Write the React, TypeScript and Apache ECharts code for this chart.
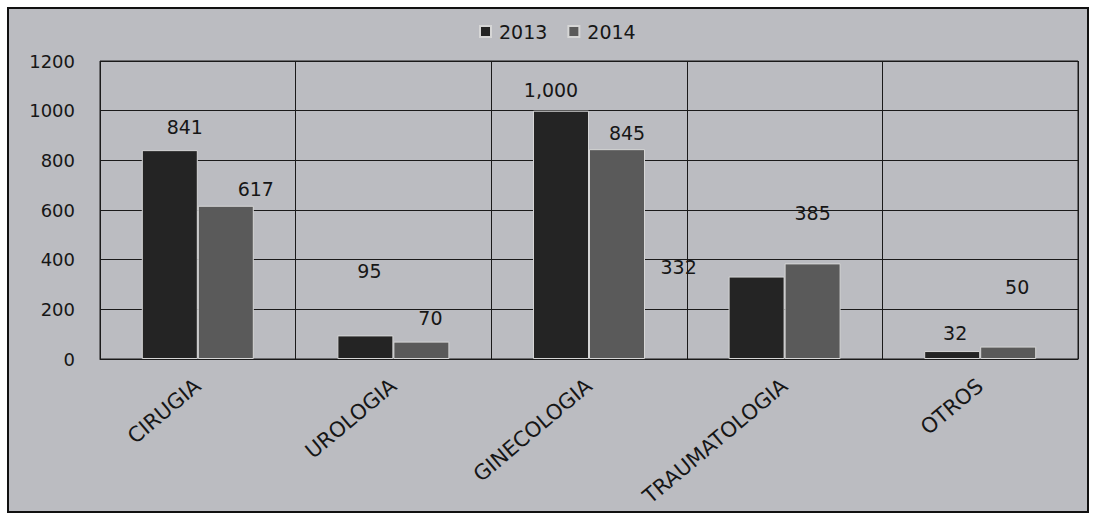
import React, { useEffect, useRef } from "react";
import * as echarts from "echarts";

const categories = ["CIRUGIA", "UROLOGIA", "GINECOLOGIA", "TRAUMATOLOGIA", "OTROS"];
const values2013 = [841, 95, 1000, 332, 32];
const values2014 = [617, 70, 845, 385, 50];
const yTicks = { min: 0, max: 1200, interval: 200 };
const seriesNames = ["2013", "2014"];

const FONT = "DejaVu Sans";
const INK = "#161616";

export default function App() {
  const ref = useRef<HTMLDivElement>(null);
  useEffect(() => {
    document.body.style.margin = "0";
    document.body.style.background = "#ffffff";
    if (!ref.current) return;
    const chart = echarts.init(ref.current, undefined, { renderer: "svg" });

    // label nudges (style only), per series and category
    const shift2013 = [[15, -9], [4, -50], [-10, -6], [-78, 5], [3, -4]];
    const shift2014 = [[30, -2], [9, -9], [10, -2], [0, -36], [9, -45]];

    const mk = (vals: number[], shifts: number[][]) =>
      vals.map((v, i) => ({ value: v, label: { offset: shifts[i] } }));

    const labelCfg = {
      show: true,
      position: "top" as const,
      distance: 5,
      color: INK,
      fontFamily: FONT,
      fontSize: 19,
      formatter: (p: any) => Number(p.value).toLocaleString("en-US"),
    };

    chart.setOption({
      animation: false,
      backgroundColor: "#ffffff",
      graphic: [
        {
          type: "rect",
          z: -100,
          silent: true,
          shape: { x: 8, y: 8, width: 1080, height: 504 },
          style: { fill: "#bbbcc1", stroke: "#111111", lineWidth: 2 },
        },
      ],
      legend: {
        left: 474,
        top: 17,
        itemWidth: 11,
        itemHeight: 11,
        itemGap: 20,
        icon: "rect",
        textStyle: { fontFamily: FONT, fontSize: 19, color: INK, padding: [0, 0, 0, 3] },
        data: seriesNames,
      },
      grid: {
        left: 100,
        right: 15,
        top: 61,
        bottom: 158,
        show: true,
        borderColor: "#1a1a1a",
        borderWidth: 1,
        backgroundColor: "transparent",
      },
      xAxis: {
        type: "category",
        data: categories,
        axisTick: { show: false },
        axisLine: { show: true, lineStyle: { color: "#1a1a1a", width: 1 } },
        splitLine: { show: true, lineStyle: { color: "#1a1a1a", width: 1 } },
        axisLabel: {
          rotate: 40,
          margin: 24,
          color: INK,
          fontFamily: FONT,
          fontSize: 21,
          interval: 0,
        },
      },
      yAxis: {
        type: "value",
        min: yTicks.min,
        max: yTicks.max,
        interval: yTicks.interval,
        axisLine: { show: false },
        axisTick: { show: false },
        splitLine: { show: true, lineStyle: { color: "#1a1a1a", width: 1 } },
        axisLabel: {
          margin: 25,
          color: INK,
          fontFamily: FONT,
          fontSize: 18,
          formatter: (v: number) => String(v),
        },
      },
      series: [
        {
          name: seriesNames[0],
          type: "bar",
          barWidth: 56,
          barGap: "0%",
          data: mk(values2013, shift2013),
          itemStyle: { color: "#242424", borderColor: "#d6d6d6", borderWidth: 1 },
          label: labelCfg,
        },
        {
          name: seriesNames[1],
          type: "bar",
          barWidth: 56,
          barGap: "0%",
          data: mk(values2014, shift2014),
          itemStyle: { color: "#5a5a5a", borderColor: "#d6d6d6", borderWidth: 1 },
          label: labelCfg,
        },
      ],
    });
    return () => chart.dispose();
  }, []);
  return <div ref={ref} style={{ width: 1093, height: 517 }} />;
}
